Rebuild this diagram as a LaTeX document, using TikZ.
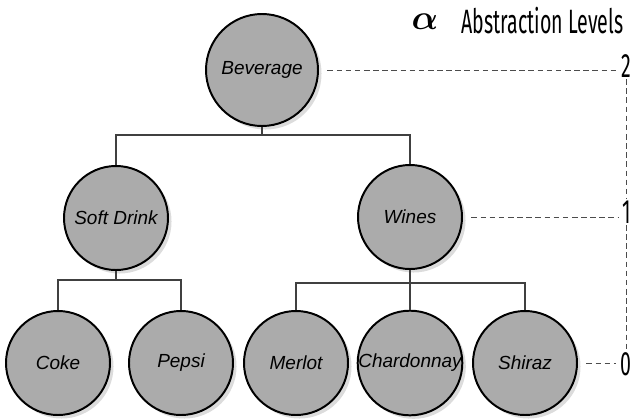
\documentclass[tikz,border=0pt]{standalone}
\usepackage{amsmath}
\usepackage{fontspec}
\setmainfont{Liberation Sans}
\newfontfamily\levelfont[FakeStretch=0.58]{Fira Sans}
\usepackage{tikz}
\usetikzlibrary{positioning, shadows}

\begin{document}
\begin{tikzpicture}[
    concept/.style={circle, draw=black, line width=1.4pt, fill=black!33,
                    minimum size=2.6cm, inner sep=0pt,
                    font=\fontsize{13.5}{15}\selectfont\itshape,
                    drop shadow={shadow xshift=2.5pt, shadow yshift=-2.5pt,
                                 fill=black!30, opacity=0.45}},
    rootconcept/.style={concept, minimum size=2.8cm},
    link/.style={line width=0.8pt, draw=black!75},
    levelline/.style={dashed, line width=0.6pt, draw=black!70,
                      dash pattern=on 4pt off 2.5pt},
    levellabel/.style={font=\levelfont\fontsize{24}{26}\selectfont, inner sep=1pt}
]

    \useasboundingbox (0,0) rectangle (15.85,-10.475);

    % Root
    \node[rootconcept] (bev) at (6.55, -1.75) {Beverage};

    % Level 1
    \node[concept] (soft) at (2.9, -5.45) {Soft Drink};
    \node[concept] (wines) at (10.25, -5.425) {Wines};

    % Leaves
    \node[concept] (coke) at (1.45, -9.075) {Coke};
    \node[concept] (pepsi) at (4.525, -9.075) {Pepsi};
    \node[concept] (merlot) at (7.4, -9.075) {Merlot};
    \node[concept] (chard) at (10.25, -9.075) {Chardonnay};
    \node[concept] (shiraz) at (13.125, -9.075) {Shiraz};

    % Bus lines
    \coordinate (bus0) at (0, -3.375);
    \coordinate (bus1) at (0, -7.0);
    \coordinate (bus2) at (0, -7.075);

    % Tree links
    \draw[link] (bev.south) -- (bev.south |- bus0);
    \draw[link] (soft.north) -- (soft.north |- bus0) -- (wines.north |- bus0) -- (wines.north);
    \draw[link] (soft.south) -- (soft.south |- bus1);
    \draw[link] (coke.north) -- (coke.north |- bus1) -- (pepsi.north |- bus1) -- (pepsi.north);
    \draw[link] (wines.south) -- (chard.north);
    \draw[link] (merlot.north) -- (merlot.north |- bus2) -- (shiraz.north |- bus2) -- (shiraz.north);

    % Title
    \node (alpha) at (10.62, -0.55) {\fontsize{34}{36}\selectfont$\boldsymbol{\alpha}$};
    \node[levellabel, anchor=west] (title) at (11.5, -0.52) {Abstraction Levels};

    % Level labels
    \node[levellabel] (lvl2) at (15.66, -1.65) {2};
    \node[levellabel] (lvl1) at (15.66, -5.3) {1};
    \node[levellabel] (lvl0) at (15.66, -9.1) {0};

    % Level guides
    \draw[levelline, shorten <=6pt, shorten >=2pt] (bev.east) -- (bev.east -| lvl2.west);
    \draw[levelline, shorten <=6pt, shorten >=2pt] (wines.east) -- (wines.east -| lvl1.west);
    \draw[levelline, shorten <=6pt, shorten >=2pt] (shiraz.east) -- (shiraz.east -| lvl0.west);
    \draw[levelline] (lvl2.south) -- (lvl1.north);
    \draw[levelline] (lvl1.south) -- (lvl0.north);

\end{tikzpicture}
\end{document}
